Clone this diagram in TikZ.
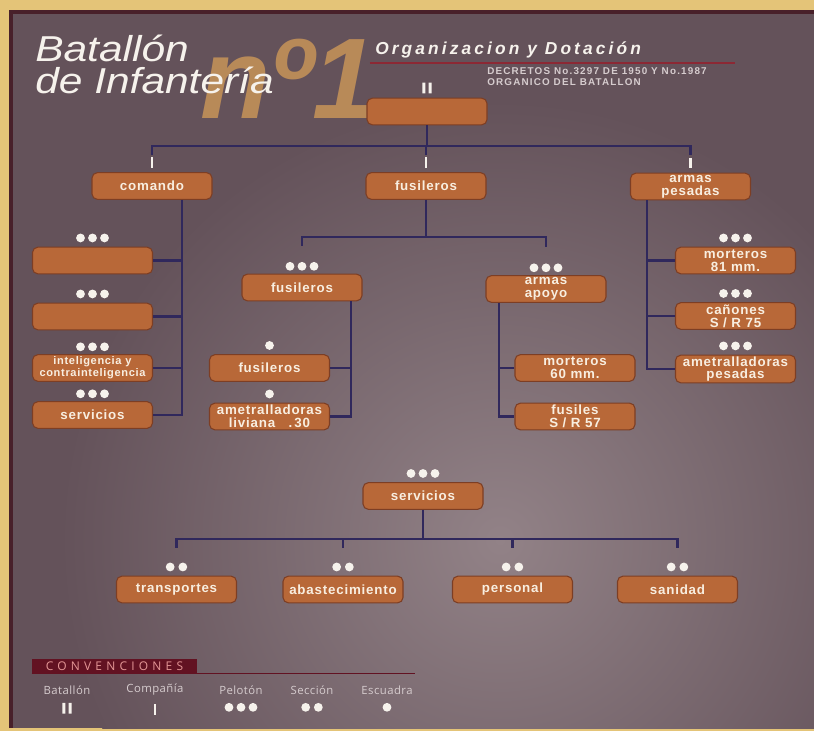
\documentclass[tikz,border=0pt]{standalone}
\usepackage{fontspec}
\setmainfont{Liberation Sans}
\newfontfamily\boxfont[LetterSpace=6]{Liberation Sans}
\newfontfamily\titlefont{Liberation Sans}
\newfontfamily\orgfont[LetterSpace=18]{Liberation Sans}
\newfontfamily\decfont[LetterSpace=12]{Liberation Sans}
\newfontfamily\legfont[LetterSpace=4]{Open Sans}
\newfontfamily\convfont[LetterSpace=35]{Open Sans}
\usetikzlibrary{positioning}

\definecolor{marco}{RGB}{228,196,120}
\definecolor{bordeosc}{RGB}{72,32,42}
\definecolor{fondo}{RGB}{100,82,90}
\definecolor{fondoclaro}{RGB}{146,130,135}
\definecolor{caja}{RGB}{184,104,56}
\definecolor{cajaborde}{RGB}{125,62,36}
\definecolor{cajatexto}{RGB}{248,238,224}
\definecolor{linea}{RGB}{48,40,92}
\definecolor{blanco}{RGB}{246,242,236}
\definecolor{numero}{RGB}{206,152,88}
\definecolor{granate}{RGB}{140,40,52}
\definecolor{convfondo}{RGB}{98,18,34}
\definecolor{convtexto}{RGB}{228,150,150}
\definecolor{leytexto}{RGB}{214,204,206}

% simbolos de unidad
\newcommand{\symbat}{\tikz{\fill[blanco] (0,0) rectangle (2.2pt,8pt) (4.6pt,0) rectangle (6.8pt,8pt);}}
\newcommand{\symcia}{\tikz{\fill[blanco] (0,0) rectangle (2.2pt,8pt);}}
\newcommand{\sympel}{\tikz{\fill[blanco] (0,0) circle (3.3pt) (9pt,0) circle (3.3pt) (18pt,0) circle (3.3pt);}}
\newcommand{\symsec}{\tikz{\fill[blanco] (0,0) circle (3.3pt) (9.5pt,0) circle (3.3pt);}}
\newcommand{\symesc}{\tikz{\fill[blanco] (0,0) circle (3.3pt);}}

\begin{document}
\begin{tikzpicture}[x=0.75pt,y=-0.75pt,
  unidad/.style={fill=caja,draw=cajaborde,line width=0.8pt,rounded corners=4pt,
    minimum width=90pt,minimum height=20pt,inner sep=1pt,text=cajatexto,align=center,
    font=\fontsize{10}{9.5}\boxfont\bfseries},
  simbolo/.style={inner sep=0pt},
  bus/.style={draw=linea,line width=2pt},
  leyenda/.style={text=leytexto,font=\fontsize{8.5}{10}\legfont,inner sep=1pt}]
\useasboundingbox (0,0) rectangle (814,731);
% fondo
\fill[marco] (0,0) rectangle (814,731);
\fill[fondo] (9,10) rectangle (814,728);
\begin{scope}
\clip (9,10) rectangle (814,728);
\shade[inner color=fondoclaro,outer color=fondo] (500,540) circle (330pt);
\end{scope}
\draw[bordeosc,line width=3pt] (11,728) -- (11,12) -- (814,12);

% titulo
\node[anchor=base west,inner sep=0pt,text=numero,opacity=0.8,
  font=\fontsize{86}{86}\titlefont\bfseries\itshape] (numero) at (200,119) {nº1};
\node[anchor=base west,inner sep=0pt,align=left,text=blanco,font=\fontsize{27}{24}\titlefont\itshape]
  (titulo) at (35,94) {\scalebox{1.18}[1]{Batallón}\\\scalebox{1.18}[1]{de Infantería}};
\node[anchor=base west,inner sep=0pt,text=blanco,font=\fontsize{13}{13}\orgfont\bfseries\itshape]
  (organiz) at (375,55) {Organizacion y Dotación};
\coordinate (lineafin) at (735,63);
\draw[granate,line width=1.5pt] ([xshift=-4pt,yshift=-6pt]organiz.base west) -- (lineafin);
\node[anchor=north west,inner sep=0pt,align=left,text=leytexto,font=\fontsize{7.4}{8.4}\decfont\bfseries]
  (decreto) at (487,67) {DECRETOS No.3297 DE 1950 Y No.1987\\ORGANICO DEL BATALLON};

% organigrama
\node[unidad] (bat) at (427,111.5) {};
\node[unidad] (cmd) at (152,186) {comando};
\node[unidad] (fus) at (426,186) {fusileros};
\node[unidad] (apes) at (690.5,186.5) {armas\\pesadas};
\node[unidad] (cmd1) at (92.5,260.5) {};
\node[unidad] (cmd2) at (92.5,316.5) {};
\node[unidad,font=\fontsize{8.3}{9}\boxfont\bfseries] (cmd3) at (92.5,368) {inteligencia y\\contrainteligencia};
\node[unidad] (cmd4) at (92.5,415) {servicios};
\node[unidad] (fuspel) at (302,287.5) {fusileros};
\node[unidad] (armapo) at (546,289) {armas\\apoyo};
\node[unidad] (fusesc) at (269.5,368) {fusileros};
\node[unidad] (ametliv) at (269.5,416.5) {ametralladoras\\liviana\quad.\,30};
\node[unidad] (mort60) at (575,368) {morteros\\60 mm.};
\node[unidad] (fusil57) at (575,416.5) {fusiles\\S / R 57};
\node[unidad] (mort81) at (735.5,260.5) {morteros\\81 mm.};
\node[unidad] (can75) at (735.5,316) {cañones\\S / R 75};
\node[unidad] (ametpes) at (735.5,369) {ametralladoras\\pesadas};
\node[unidad] (serv) at (423,496) {servicios};
\node[unidad] (transp) at (176.5,589.5) {transportes};
\node[unidad] (abast) at (343,589.5) {abastecimiento};
\node[unidad] (person) at (512.5,589.5) {personal};
\node[unidad] (sanid) at (677.5,589.5) {sanidad};

% simbolos
\node[simbolo,above=3pt of bat] (batsym) {\symbat};
\node[simbolo,above=3pt of cmd] (cmdsym) {\symcia};
\node[simbolo,above=3pt of fus] (fussym) {\symcia};
\node[simbolo,above=3pt of apes] (apessym) {\symcia};
\node[simbolo,above=3pt of cmd1] (cmd1sym) {\sympel};
\node[simbolo,above=3pt of cmd2] (cmd2sym) {\sympel};
\node[simbolo,above=2pt of cmd3] (cmd3sym) {\sympel};
\node[simbolo,above=2pt of cmd4] (cmd4sym) {\sympel};
\node[simbolo,above=2pt of fuspel] (fuspelsym) {\sympel};
\node[simbolo,above=2pt of armapo] (armaposym) {\sympel};
\node[simbolo,above=3pt of fusesc] (fusescsym) {\symesc};
\node[simbolo,above=3pt of ametliv] (ametlivsym) {\symesc};
\node[simbolo,above=3pt of mort81] (mort81sym) {\sympel};
\node[simbolo,above=3pt of can75] (can75sym) {\sympel};
\node[simbolo,above=3pt of ametpes] (ametpessym) {\sympel};
\node[simbolo,above=3pt of serv] (servsym) {\sympel};
\node[simbolo,above=3pt of transp] (transpsym) {\symsec};
\node[simbolo,above=3pt of abast] (abastsym) {\symsec};
\node[simbolo,above=3pt of person] (personsym) {\symsec};
\node[simbolo,above=3pt of sanid] (sanidsym) {\symsec};

% lineas de mando
\coordinate (topbus) at (0,146);
\draw[bus] (bat.south) -- (bat.south |- topbus);
\draw[bus] ([yshift=1.5pt]cmdsym.north) |- (topbus -| apessym.north) -- ([yshift=1.5pt]apessym.north);
\draw[bus] (topbus -| fussym.north) -- ([yshift=1.5pt]fussym.north);

\coordinate (cmdx) at (182,0);
\draw[bus] (cmdx |- cmd.south) |- (cmd4.east);
\draw[bus] (cmd1.east) -- (cmd1.east -| cmdx);
\draw[bus] (cmd2.east) -- (cmd2.east -| cmdx);
\draw[bus] (cmd3.east) -- (cmd3.east -| cmdx);

\coordinate (fusbus) at (0,237);
\draw[bus] (fus.south) -- (fus.south |- fusbus);
\draw[bus] ([yshift=12pt]fuspelsym.north) |- (fusbus -| armaposym.north) -- ([yshift=12pt]armaposym.north);

\coordinate (fuspelx) at (351,0);
\draw[bus] (fuspelx |- fuspel.south) |- (ametliv.east);
\draw[bus] (fusesc.east) -- (fusesc.east -| fuspelx);

\coordinate (armapox) at (499,0);
\draw[bus] (armapox |- armapo.south) |- (fusil57.west);
\draw[bus] (mort60.west) -- (mort60.west -| armapox);

\coordinate (apesx) at (647,0);
\draw[bus] (apesx |- apes.south) |- (ametpes.west);
\draw[bus] (mort81.west) -- (mort81.west -| apesx);
\draw[bus] (can75.west) -- (can75.west -| apesx);

\coordinate (servbus) at (0,539);
\draw[bus] (serv.south) -- (serv.south |- servbus);
\draw[bus] ([yshift=11pt]transpsym.north) |- (servbus -| sanidsym.north) -- ([yshift=11pt]sanidsym.north);
\draw[bus] (servbus -| abastsym.north) -- ([yshift=11pt]abastsym.north);
\draw[bus] (servbus -| personsym.north) -- ([yshift=11pt]personsym.north);

% convenciones
\node[fill=convfondo,text=convtexto,minimum width=124pt,minimum height=10.5pt,inner sep=0pt,
  font=\fontsize{9}{9}\convfont] (conv) at (114.5,666) {CONVENCIONES};
\coordinate (convfin) at (415,0);
\draw[convfondo,line width=0.8pt] (conv.south west) -- (conv.south west -| convfin);
\node[leyenda] (lbat) at (67,690) {Batallón};
\node[leyenda] (lcia) at (155,690) {Compañía};
\node[leyenda] (lpel) at (241,690) {Pelotón};
\node[leyenda] (lsec) at (312,690) {Sección};
\node[leyenda] (lesc) at (387,690) {Escuadra};
\node[simbolo,below=5pt of lbat] (lbatsym) {\symbat};
\node[simbolo,below=5pt of lcia] (lciasym) {\symcia};
\node[simbolo,below=5pt of lpel] (lpelsym) {\sympel};
\node[simbolo,below=5pt of lsec] (lsecsym) {\symsec};
\node[simbolo,below=5pt of lesc] (lescsym) {\symesc};
\end{tikzpicture}
\end{document}
